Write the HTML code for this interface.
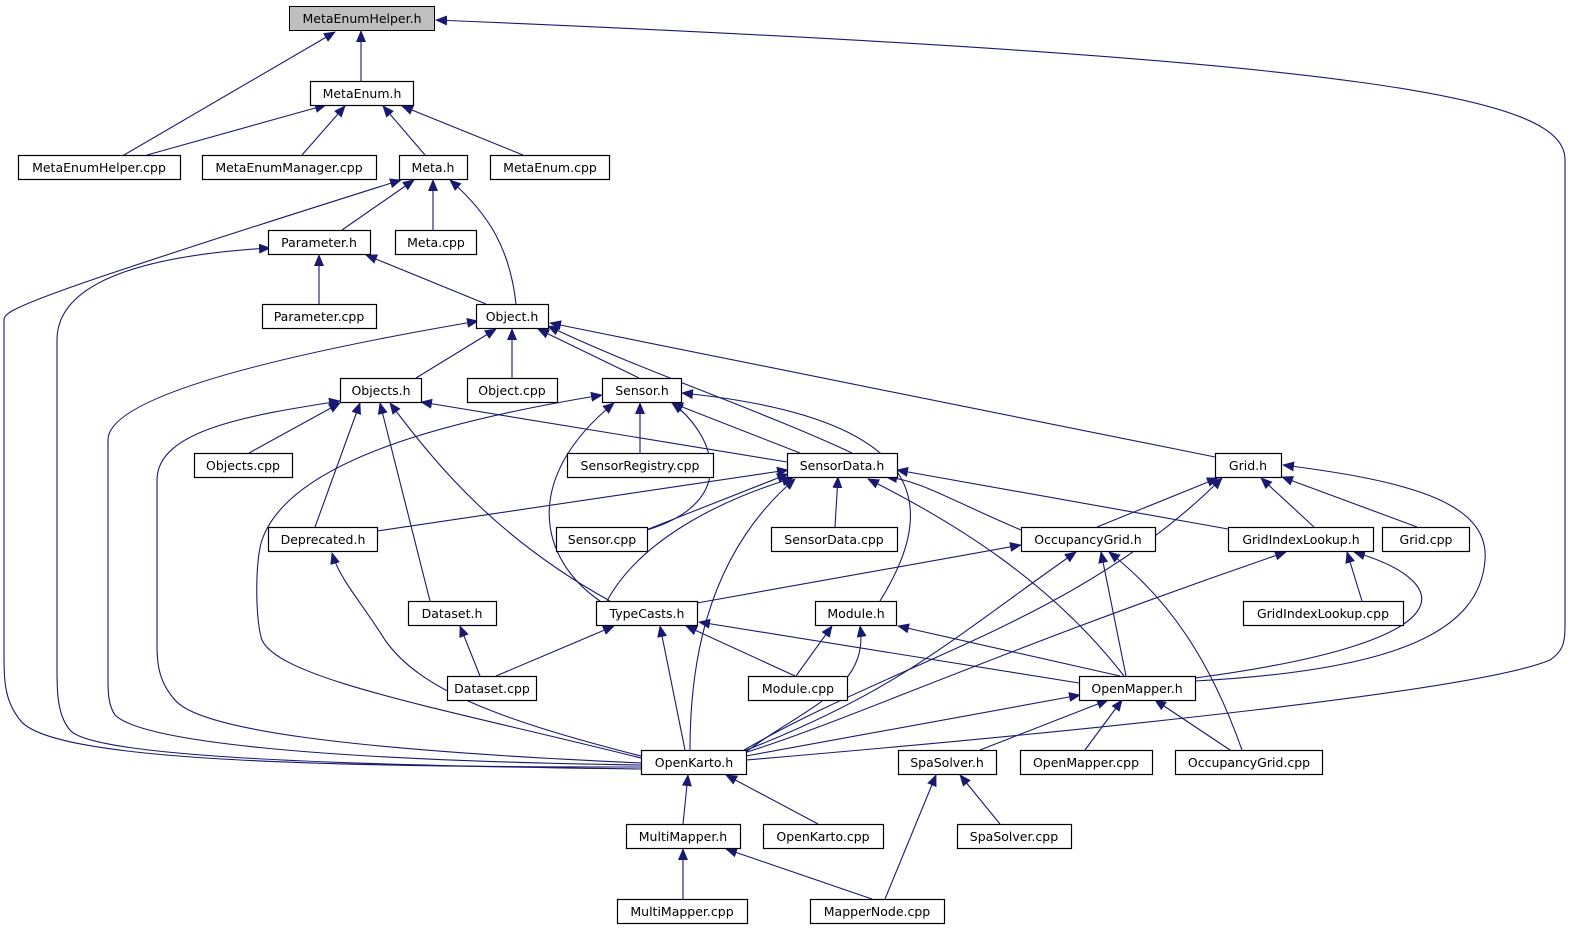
<!DOCTYPE html>
<html><head><meta charset="utf-8"><style>
html,body{margin:0;padding:0;background:#fff;width:1571px;height:933px;overflow:hidden}
svg text{font-family:"DejaVu Sans","Liberation Sans",sans-serif;font-size:12.5px;fill:#000;text-anchor:middle}
.e{fill:none;stroke:#191970;stroke-width:1.1}
.n{fill:#fff;stroke:#000;stroke-width:1.2}
</style></head><body>
<svg width="1571" height="933" xmlns="http://www.w3.org/2000/svg">
<defs><marker id="a" markerWidth="12" markerHeight="10" refX="11" refY="5" orient="auto" markerUnits="userSpaceOnUse"><path d="M0,0 L12,5 L0,10 z" fill="#191970"/></marker></defs>
<g class="e" marker-end="url(#a)">
<path d="M361,81 L361,31"/>
<path d="M124,155 L335,32"/>
<path d="M147,155 L326,105"/>
<path d="M302,155 L345,106"/>
<path d="M425,155 L383,106"/>
<path d="M523,155 L402,106"/>
<path d="M342,230 L414,180"/>
<path d="M433,230 L433,180"/>
<path d="M516,304 C510,250 490,215 450,180"/>
<path d="M641,767 C300,767 50,760 20,720 C4,700 4,680 4,650 L4,320 C4,310 20,300 401,180"/>
<path d="M319,304 L319,255"/>
<path d="M486,304 L366,255"/>
<path d="M641,769 C300,765 90,755 70,730 C57,715 57,690 57,670 L57,340 C57,280 150,255 270,248"/>
<path d="M416,378 L496,329"/>
<path d="M512,378 L512,329"/>
<path d="M639,378 L538,329"/>
<path d="M852,453 C760,410 640,370 548,326"/>
<path d="M1215,457 L550,323"/>
<path d="M641,765 C300,760 140,740 115,715 C108,705 108,690 108,680 L108,440 C108,400 250,360 478,321"/>
<path d="M249,453 L340,403"/>
<path d="M315,527 L360,403"/>
<path d="M430,601 L380,403"/>
<path d="M610,601 C500,540 440,470 390,403"/>
<path d="M787,462 L421,402"/>
<path d="M641,763 C350,750 200,730 175,700 C157,680 157,660 157,640 L157,480 C157,430 250,415 340,401"/>
<path d="M640,453 L640,403"/>
<path d="M800,453 L672,403"/>
<path d="M647,530 C745,500 710,430 672,403"/>
<path d="M600,601 C540,560 520,480 614,403"/>
<path d="M880,601 C930,520 950,420 682,393"/>
<path d="M641,758 C450,710 280,680 262,640 C255,620 255,560 262,540 C290,460 450,420 602,395"/>
<path d="M377,531 L788,470"/>
<path d="M646,530 L788,474"/>
<path d="M835,527 L838,477"/>
<path d="M1021,530 C950,500 920,480 886,477"/>
<path d="M1228,529 L897,470"/>
<path d="M607,601 C640,540 720,500 793,478"/>
<path d="M690,750 C690,680 700,560 795,479"/>
<path d="M1124,676 C1050,580 950,520 868,479"/>
<path d="M1097,527 L1218,478"/>
<path d="M1314,527 L1261,478"/>
<path d="M1417,527 L1282,477"/>
<path d="M744,750 C900,660 1080,620 1222,478"/>
<path d="M1195,681 C1400,670 1480,630 1485,560 C1490,500 1400,480 1283,465"/>
<path d="M697,603 L1021,545"/>
<path d="M744,751 C900,690 950,640 1076,552"/>
<path d="M1126,676 L1101,552"/>
<path d="M1242,750 C1210,660 1170,600 1109,552"/>
<path d="M1362,601 L1347,552"/>
<path d="M744,753 C850,720 1000,650 1286,552"/>
<path d="M1195,678 C1480,640 1450,580 1354,552"/>
<path d="M641,756 C500,720 420,690 385,640 C360,600 340,580 332,553"/>
<path d="M480,676 L460,626"/>
<path d="M496,676 L614,626"/>
<path d="M795,676 L686,626"/>
<path d="M1079,683 L699,622"/>
<path d="M685,750 L660,626"/>
<path d="M796,676 L832,626"/>
<path d="M746,752 C800,710 870,690 860,626"/>
<path d="M1120,676 L898,626"/>
<path d="M746,756 L1080,695"/>
<path d="M980,750 L1108,700"/>
<path d="M1085,750 L1122,700"/>
<path d="M1230,750 L1155,700"/>
<path d="M746,760 C1100,730 1480,690 1550,660 C1565,650 1565,640 1565,620 L1565,160 C1565,100 1400,60 436,20"/>
<path d="M683,824 L688,775"/>
<path d="M818,824 L726,775"/>
<path d="M683,899 L683,849"/>
<path d="M872,899 L726,849"/>
<path d="M885,899 L936,775"/>
<path d="M1000,824 L960,775"/>
</g>
<g>
<rect x="289.5" y="6.5" width="145" height="24" fill="#bfbfbf" stroke="#000"/><text x="362" y="23">MetaEnumHelper.h</text>
<rect class="n" x="310.5" y="81.5" width="103" height="24"/><text x="362" y="98">MetaEnum.h</text>
<rect class="n" x="18.5" y="155.5" width="162" height="24"/><text x="99" y="172">MetaEnumHelper.cpp</text>
<rect class="n" x="202.5" y="155.5" width="174" height="24"/><text x="289" y="172">MetaEnumManager.cpp</text>
<rect class="n" x="399.5" y="155.5" width="68" height="24"/><text x="433" y="172">Meta.h</text>
<rect class="n" x="490.5" y="155.5" width="119" height="24"/><text x="550" y="172">MetaEnum.cpp</text>
<rect class="n" x="268.5" y="230.5" width="102" height="24"/><text x="319" y="247">Parameter.h</text>
<rect class="n" x="395.5" y="230.5" width="81" height="24"/><text x="436" y="247">Meta.cpp</text>
<rect class="n" x="262.5" y="304.5" width="114" height="24"/><text x="319" y="321">Parameter.cpp</text>
<rect class="n" x="476.5" y="304.5" width="72" height="24"/><text x="512" y="321">Object.h</text>
<rect class="n" x="340.5" y="378.5" width="81" height="24"/><text x="381" y="395">Objects.h</text>
<rect class="n" x="467.5" y="378.5" width="90" height="24"/><text x="512" y="395">Object.cpp</text>
<rect class="n" x="602.5" y="378.5" width="79" height="24"/><text x="642" y="395">Sensor.h</text>
<rect class="n" x="194.5" y="453.5" width="98" height="24"/><text x="243" y="470">Objects.cpp</text>
<rect class="n" x="567.5" y="453.5" width="146" height="24"/><text x="640" y="470">SensorRegistry.cpp</text>
<rect class="n" x="787.5" y="453.5" width="110" height="24"/><text x="842" y="470">SensorData.h</text>
<rect class="n" x="1215.5" y="453.5" width="66" height="24"/><text x="1248" y="470">Grid.h</text>
<rect class="n" x="268.5" y="527.5" width="109" height="24"/><text x="323" y="544">Deprecated.h</text>
<rect class="n" x="556.5" y="527.5" width="91" height="24"/><text x="602" y="544">Sensor.cpp</text>
<rect class="n" x="771.5" y="527.5" width="126" height="24"/><text x="834" y="544">SensorData.cpp</text>
<rect class="n" x="1021.5" y="527.5" width="134" height="24"/><text x="1088" y="544">OccupancyGrid.h</text>
<rect class="n" x="1228.5" y="527.5" width="145" height="24"/><text x="1301" y="544">GridIndexLookup.h</text>
<rect class="n" x="1382.5" y="527.5" width="87" height="24"/><text x="1426" y="544">Grid.cpp</text>
<rect class="n" x="408.5" y="601.5" width="88" height="24"/><text x="452" y="618">Dataset.h</text>
<rect class="n" x="596.5" y="601.5" width="101" height="24"/><text x="647" y="618">TypeCasts.h</text>
<rect class="n" x="815.5" y="601.5" width="81" height="24"/><text x="856" y="618">Module.h</text>
<rect class="n" x="1243.5" y="601.5" width="160" height="24"/><text x="1323" y="618">GridIndexLookup.cpp</text>
<rect class="n" x="447.5" y="676.5" width="89" height="24"/><text x="492" y="693">Dataset.cpp</text>
<rect class="n" x="748.5" y="676.5" width="99" height="24"/><text x="798" y="693">Module.cpp</text>
<rect class="n" x="1079.5" y="676.5" width="116" height="24"/><text x="1137" y="693">OpenMapper.h</text>
<rect class="n" x="641.5" y="750.5" width="105" height="24"/><text x="694" y="767">OpenKarto.h</text>
<rect class="n" x="898.5" y="750.5" width="98" height="24"/><text x="947" y="767">SpaSolver.h</text>
<rect class="n" x="1020.5" y="750.5" width="132" height="24"/><text x="1086" y="767">OpenMapper.cpp</text>
<rect class="n" x="1175.5" y="750.5" width="147" height="24"/><text x="1249" y="767">OccupancyGrid.cpp</text>
<rect class="n" x="626.5" y="824.5" width="114" height="24"/><text x="683" y="841">MultiMapper.h</text>
<rect class="n" x="763.5" y="824.5" width="120" height="24"/><text x="823" y="841">OpenKarto.cpp</text>
<rect class="n" x="957.5" y="824.5" width="114" height="24"/><text x="1014" y="841">SpaSolver.cpp</text>
<rect class="n" x="617.5" y="899.5" width="130" height="24"/><text x="682" y="916">MultiMapper.cpp</text>
<rect class="n" x="810.5" y="899.5" width="134" height="24"/><text x="877" y="916">MapperNode.cpp</text>
</g>
</svg>
</body></html>
